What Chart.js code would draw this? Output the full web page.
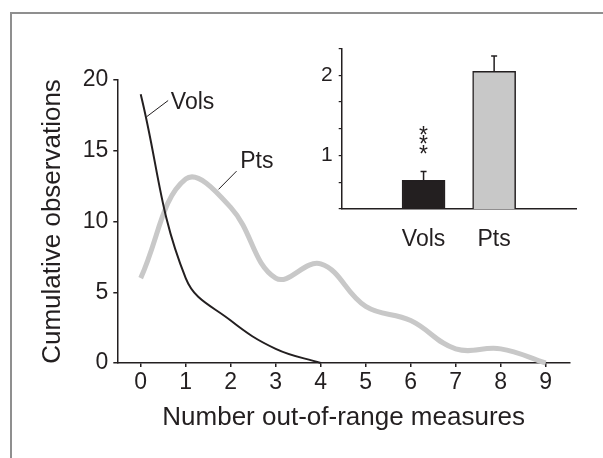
<!DOCTYPE html>
<html>
<head>
<meta charset="utf-8">
<script src="https://cdn.jsdelivr.net/npm/chart.js@4.4.1/dist/chart.umd.min.js"></script>
<style>
  html, body { margin: 0; padding: 0; background: #fff; }
  #wrap { position: relative; width: 603px; height: 458px; overflow: hidden; background: #fff; }
  #frame { position: absolute; left: 10px; top: 12px; width: 700px; height: 600px;
           border-left: 2.5px solid #8f8f8f; border-top: 2.5px solid #8f8f8f; }
  #main { position: absolute; left: 0; top: 0; }
  #inset { position: absolute; left: 290px; top: 30px; }
</style>
</head>
<body>
<div id="wrap">
  <div id="frame"></div>
  <canvas id="main" width="603" height="458"></canvas>
  <canvas id="inset" width="300" height="230"></canvas>
</div>
<script>
// main panel: cumulative observations vs number of out-of-range measures
const outOfRange = [0, 1, 2, 3, 4, 5, 6, 7, 8, 9];
const volsCounts = [19, 6, 3, 1, 0];
const ptsCounts = [6, 13, 11, 6, 7, 4, 3, 1, 1, 0];
const countTicks = [0, 5, 10, 15, 20];

// inset: mean per group with upper error
const groups = ['Vols', 'Pts'];
const groupMeans = [0.69, 2.05];
const groupErrors = [0.11, 0.19];
const groupStars = ['***', ''];
const meanTicks = [1/3, 2/3, 1, 4/3, 5/3, 2, 7/3];

const ink = '#231f20';
const grey = '#c8c8c8';
const font = "'Liberation Sans', Arial, Helvetica, sans-serif";

// line labels with leader lines, placed in data units
const callouts = [
  { text: 'Vols', from: [0.13, 17.4], to: [0.61, 18.55], at: [0.67, 17.95] },
  { text: 'Pts', from: [1.73, 12.27], to: [2.13, 13.56], at: [2.21, 13.76] }
];

const calloutPlugin = {
  id: 'callouts',
  afterDatasetsDraw(chart) {
    const { ctx, scales: { x, y } } = chart;
    ctx.save();
    ctx.strokeStyle = ink;
    ctx.fillStyle = ink;
    ctx.lineWidth = 1;
    ctx.font = '23px ' + font;
    ctx.textBaseline = 'alphabetic';
    callouts.forEach(c => {
      ctx.beginPath();
      ctx.moveTo(x.getPixelForValue(c.from[0]), y.getPixelForValue(c.from[1]));
      ctx.lineTo(x.getPixelForValue(c.to[0]), y.getPixelForValue(c.to[1]));
      ctx.stroke();
      ctx.fillText(c.text, x.getPixelForValue(c.at[0]), y.getPixelForValue(c.at[1]));
    });
    ctx.restore();
  }
};

const mainChart = new Chart(document.getElementById('main'), {
  type: 'line',
  data: {
    datasets: [
      {
        label: 'Vols',
        data: volsCounts.map((v, i) => ({ x: outOfRange[i], y: v })),
        borderColor: ink,
        borderWidth: 2,
        pointRadius: 0,
        tension: 0.4,
        clip: false
      },
      {
        label: 'Pts',
        data: ptsCounts.map((v, i) => ({ x: outOfRange[i], y: v })),
        borderColor: grey,
        borderWidth: 5,
        pointRadius: 0,
        tension: 0.4,
        clip: false
      }
    ]
  },
  options: {
    responsive: false,
    animation: false,
    events: [],
    layout: { padding: { top: 80, right: 33, bottom: 0, left: 0 } },
    plugins: { legend: { display: false }, tooltip: { enabled: false } },
    scales: {
      x: {
        type: 'linear',
        min: -0.52,
        max: 9.54,
        afterBuildTicks: s => { s.ticks = outOfRange.map(v => ({ value: v })); },
        afterFit: s => { s.height = 95; },
        grid: { drawOnChartArea: false, tickLength: 4, color: ink, lineWidth: 1.5 },
        border: { color: ink, width: 1.5 },
        ticks: { color: ink, font: { family: font, size: 23 }, padding: 2, maxRotation: 0, autoSkip: false },
        title: {
          display: true,
          text: 'Number out-of-range measures',
          color: ink,
          font: { family: font, size: 26 },
          padding: { top: 25, bottom: 25 }
        }
      },
      y: {
        min: 0,
        max: 20,
        afterBuildTicks: s => { s.ticks = countTicks.map(v => ({ value: v })); },
        afterFit: s => { s.width = 117.3; },
        grid: { drawOnChartArea: false, tickLength: 4, color: ink, lineWidth: 1.5 },
        border: { color: ink, width: 1.5 },
        ticks: { color: ink, font: { family: font, size: 23 }, padding: 5, autoSkip: false },
        title: {
          display: true,
          text: 'Cumulative observations',
          color: ink,
          font: { family: font, size: 26 },
          padding: { top: 37, bottom: 37 }
        }
      }
    }
  },
  plugins: [calloutPlugin]
});

const errorBarPlugin = {
  id: 'errorBars',
  afterDatasetsDraw(chart) {
    const { ctx, scales: { x, y } } = chart;
    ctx.save();
    ctx.strokeStyle = ink;
    ctx.fillStyle = ink;
    ctx.lineWidth = 1.5;
    groups.forEach((g, i) => {
      const px = x.getPixelForValue(i + 1);
      const top = y.getPixelForValue(groupMeans[i]);
      const err = y.getPixelForValue(groupMeans[i] + groupErrors[i]);
      ctx.beginPath();
      ctx.moveTo(px, top);
      ctx.lineTo(px, err);
      ctx.moveTo(px - 3, err);
      ctx.lineTo(px + 3, err);
      ctx.stroke();
      // significance stars stacked vertically
      ctx.font = '23px ' + font;
      ctx.textAlign = 'center';
      ctx.textBaseline = 'alphabetic';
      [...groupStars[i]].forEach((s, k) => {
        const cy = err - 23 - k * 9.5;
        ctx.fillText(s, px, cy + 0.58 * 23);
      });
    });
    ctx.restore();
  }
};

const insetChart = new Chart(document.getElementById('inset'), {
  type: 'bar',
  data: {
    datasets: [{
      data: groups.map((g, i) => ({ x: i + 1, y: groupMeans[i] })),
      backgroundColor: [ink, grey],
      borderColor: ink,
      borderWidth: 1.5,
      barThickness: 43
    }]
  },
  options: {
    responsive: false,
    animation: false,
    events: [],
    layout: { padding: { top: 14, right: 13.3, bottom: 0, left: 0 } },
    plugins: { legend: { display: false }, tooltip: { enabled: false } },
    scales: {
      x: {
        type: 'linear',
        offset: false,
        min: -0.16,
        max: 3.17,
        afterBuildTicks: s => { s.ticks = groups.map((g, i) => ({ value: i + 1 })); },
        afterFit: s => { s.height = 51; },
        grid: { display: false, offset: false },
        border: { color: ink, width: 1.5 },
        ticks: {
          color: ink,
          font: { family: font, size: 23 },
          padding: 9,
          maxRotation: 0,
          autoSkip: false,
          callback: v => groups[Math.round(v) - 1]
        }
      },
      y: {
        min: meanTicks[0],
        max: meanTicks[meanTicks.length - 1],
        afterBuildTicks: s => { s.ticks = meanTicks.map(v => ({ value: v })); },
        afterFit: s => { s.width = 51.7; },
        grid: { drawOnChartArea: false, tickLength: 3, color: ink, lineWidth: 1.2 },
        border: { color: ink, width: 1.5 },
        ticks: {
          color: ink,
          font: { family: font, size: 21 },
          padding: 6,
          autoSkip: false,
          callback: v => Math.abs(v - Math.round(v)) < 1e-6 ? String(Math.round(v)) : ''
        }
      }
    }
  },
  plugins: [errorBarPlugin]
});
</script>
</body>
</html>
